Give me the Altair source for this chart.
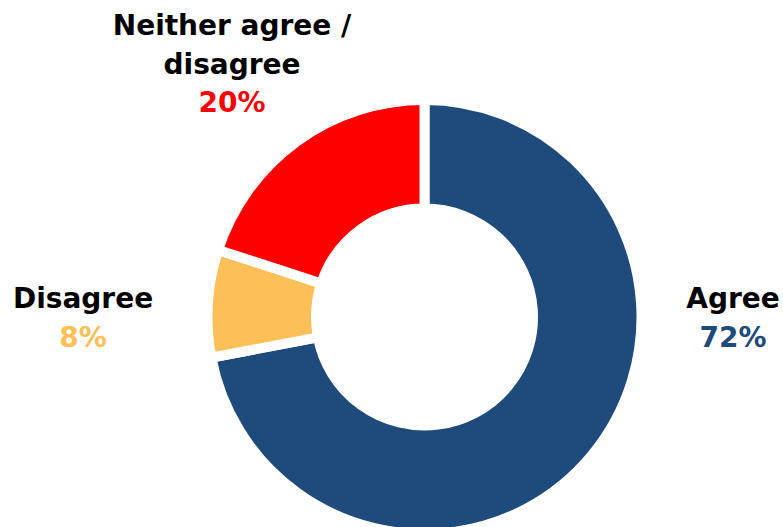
import altair as alt
import pandas as pd

categories = ["Agree", "Disagree", "Neither agree / disagree"]
values = [72, 8, 20]
colors = ["#1F4A7C", "#FDBF57", "#FF0000"]
label_lines = [["Agree"], ["Disagree"], ["Neither agree /", "disagree"]]

df = pd.DataFrame({"category": categories, "value": values, "idx": list(range(len(categories)))})

W, H = 783, 527
CX, CY = 424.5, 317
R_OUT, R_IN = 217, 108.5

donut = alt.Chart(df).mark_arc(
    outerRadius=R_OUT, innerRadius=R_IN, stroke="white", strokeWidth=10
).encode(
    theta=alt.Theta("value:Q", stack=True),
    order=alt.Order("idx:Q"),
    color=alt.Color("category:N", scale=alt.Scale(domain=categories, range=colors), legend=None),
    x=alt.value(CX),
    y=alt.value(CY),
)

# label anchor (center x, first baseline y) per category -- layout only
anchors = [(733, 308), (83, 308), (232, 35)]
LINE = 38.5
FONT = "DejaVu Sans"
FS = 28

layers = [donut]
for cat, val, col, lines, (ax, ay) in zip(categories, values, colors, label_lines, anchors):
    sub = df[df["category"] == cat].copy()
    for i, line in enumerate(lines):
        layers.append(
            alt.Chart(sub).mark_text(
                font=FONT, fontSize=FS, fontWeight="bold", color="black",
                align="center", baseline="alphabetic", text=line
            ).encode(x=alt.value(ax), y=alt.value(ay + i * LINE))
        )
    sub["pct"] = sub["value"].astype(str) + "%"
    layers.append(
        alt.Chart(sub).mark_text(
            font=FONT, fontSize=FS, fontWeight="bold", color=col,
            align="center", baseline="alphabetic"
        ).encode(text="pct:N", x=alt.value(ax), y=alt.value(ay + len(lines) * LINE))
    )

chart = alt.layer(*layers).properties(
    width=W, height=H, autosize=alt.AutoSizeParams(type="none"), padding=0
).configure_view(stroke=None)

chart.save("out.html", embed_options={"renderer": "svg", "actions": False})
